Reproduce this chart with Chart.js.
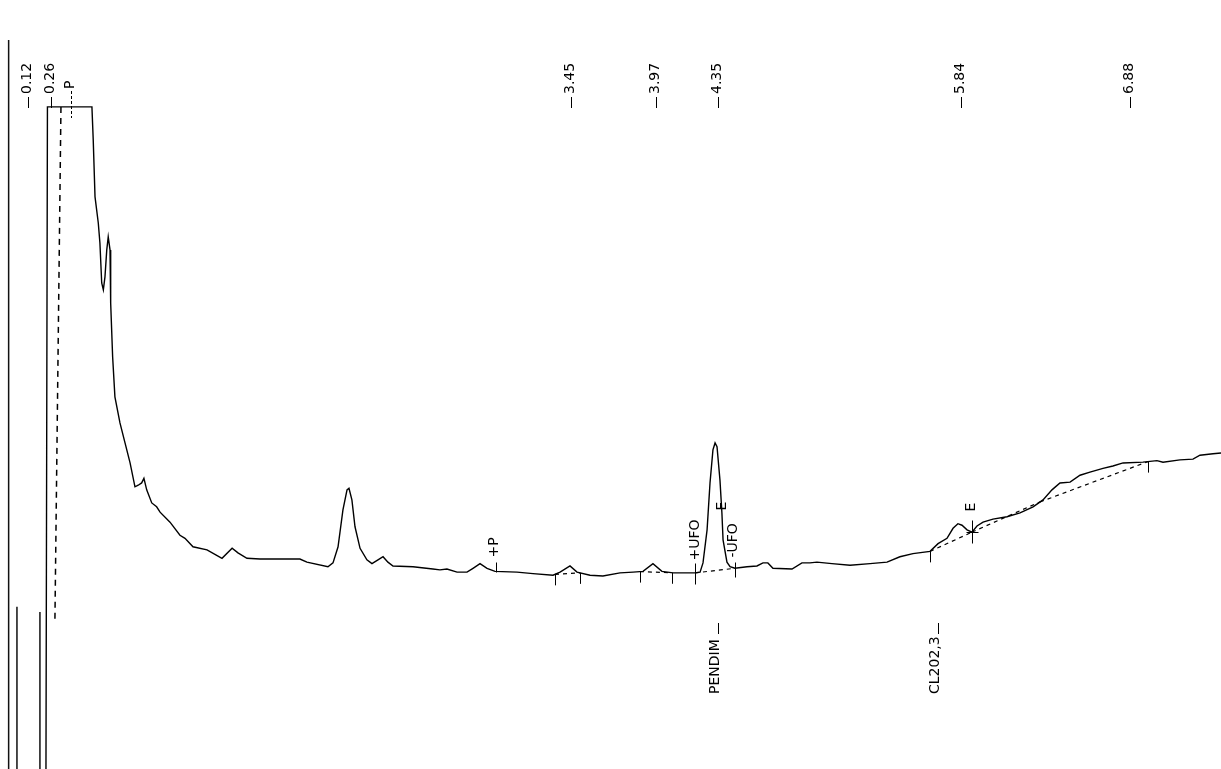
<!DOCTYPE html>
<html>
<head>
<meta charset="utf-8">
<title>Chromatogram</title>
<script src="https://cdn.jsdelivr.net/npm/chart.js@4/dist/chart.umd.min.js"></script>
<style>
  html, body { margin: 0; padding: 0; background: #fff; }
  #wrap { width: 1221px; height: 769px; }
</style>
</head>
<body>
<div id="wrap"><canvas id="chrom" width="1221" height="769"></canvas></div>
<script>
// Detector trace: retention time (min) and signal (relative units)
const traceTime = [
  0.229,0.238,0.511,0.519,0.530,0.550,0.560,0.571,0.581,0.591,
  0.602,0.611,0.622,0.626,0.638,0.652,0.683,0.714,0.745,0.775,
  0.795,0.816,0.830,0.847,0.878,0.908,0.929,0.990,1.051,1.082,
  1.131,1.217,1.309,1.371,1.407,1.462,1.542,1.616,1.726,1.787,
  1.830,1.959,1.990,2.021,2.051,2.076,2.088,2.106,2.125,2.156,
  2.198,2.229,2.266,2.297,2.327,2.358,2.481,2.603,2.646,2.689,
  2.751,2.812,2.849,2.892,2.935,2.984,3.119,3.217,3.340,3.383,
  3.444,3.487,3.567,3.646,3.751,3.831,3.892,3.953,4.008,4.076,
  4.211,4.242,4.260,4.285,4.303,4.321,4.334,4.346,4.364,4.376,
  4.383,4.407,4.426,4.456,4.530,4.591,4.628,4.658,4.689,4.806,
  4.867,4.916,4.959,5.051,5.162,5.285,5.389,5.468,5.548,5.653,
  5.702,5.757,5.794,5.824,5.849,5.880,5.910,5.941,5.978,6.039,
  6.125,6.205,6.285,6.346,6.401,6.450,6.512,6.573,6.634,6.714,
  6.775,6.837,6.959,7.045,7.082,7.186,7.266,7.309,7.389,7.438
];
const traceSignal = [
  0,86.1,86.1,81.8,74.4,71.0,68.4,63.2,62.3,64.0,
  67.5,69.2,67.5,60.6,53.6,48.4,45.0,42.4,39.8,36.7,
  36.9,37.2,37.8,36.3,34.6,34.1,33.4,32.1,30.4,30.0,
  28.9,28.5,27.4,28.7,28.1,27.4,27.3,27.3,27.3,27.3,
  26.9,26.3,26.8,28.9,33.7,36.3,36.5,35.0,31.5,28.7,
  27.2,26.7,27.2,27.6,26.9,26.4,26.3,26.0,25.9,26.0,
  25.6,25.6,26.1,26.7,26.1,25.7,25.6,25.4,25.2,25.6,
  26.4,25.6,25.2,25.1,25.5,25.6,25.7,26.7,25.7,25.5,
  25.5,25.6,26.8,31.1,37.2,41.5,42.4,41.9,37.6,33.3,
  29.8,26.9,26.3,26.1,26.3,26.4,26.8,26.8,26.1,26.0,
  26.8,26.8,26.9,26.7,26.5,26.7,26.9,27.6,28.0,28.3,
  29.3,30.0,31.3,31.9,31.7,31.1,30.8,31.6,32.1,32.5,
  32.8,33.3,34.1,35.0,36.3,37.2,37.3,38.2,38.6,39.1,
  39.4,39.8,39.9,40.1,39.9,40.2,40.3,40.8,41.0,41.1
];

// Retention times printed along the top
const peakTimes = [0.12, 0.26, 3.45, 3.97, 4.35, 5.84, 6.88];

// Identified compounds
const compoundNames = ['PENDIM', 'CL202,3'];
const compoundTimes = [4.35, 5.70];

// Integration events
const splitTimes = [3.352, 3.506, 3.873, 4.070, 5.653, 6.990];
const eventLabels = ['+P', '+UFO', '-UFO', 'E', 'E'];
const eventTimes = [2.990, 4.211, 4.456, 4.376, 5.910];
const pickTime = 0.383;

// Drawn integration baselines (start / end times)
const baselineFrom = [3.352, 3.873, 4.211, 5.653, 5.910, 6.328];
const baselineTo   = [3.506, 4.070, 4.456, 5.910, 6.328, 6.990];

// Solvent-front baseline
const solventTime = [0.321, 0.284];
const solventSignal = [86.1, 19.4];

// Recorder rails at the start of the run
const railTimes = [0.000, 0.051, 0.192];
const railTop = [94.8, 21.1, 20.4];

const X_MIN = -0.053, X_MAX = 7.438;

function traceAt(t) {
  for (let i = 1; i < traceTime.length; i++) {
    if (traceTime[i] >= t) {
      const t0 = traceTime[i - 1], t1 = traceTime[i];
      const f = (t - t0) / (t1 - t0);
      return traceSignal[i - 1] + f * (traceSignal[i] - traceSignal[i - 1]);
    }
  }
  return traceSignal[traceSignal.length - 1];
}

const traceData = traceTime.map((t, i) => ({ x: t, y: traceSignal[i] }));

const baselineData = [];
baselineFrom.forEach((t0, i) => {
  const t1 = baselineTo[i];
  baselineData.push({ x: t0, y: traceAt(t0) }, { x: t1, y: traceAt(t1) }, { x: t1, y: null });
});

const solventData = solventTime.map((t, i) => ({ x: t, y: solventSignal[i] }));

const railData = [];
railTimes.forEach((t, i) => {
  railData.push({ x: t, y: railTop[i] }, { x: t, y: 0 }, { x: t, y: null });
});

function vline(ctx, x, y0, y1) {
  ctx.beginPath();
  ctx.moveTo(x, y0);
  ctx.lineTo(x, y1);
  ctx.stroke();
}
function hline(ctx, x0, x1, y) {
  ctx.beginPath();
  ctx.moveTo(x0, y);
  ctx.lineTo(x1, y);
  ctx.stroke();
}
// Text running upward from (x, yBottom)
function vtext(ctx, text, x, yBottom) {
  ctx.save();
  ctx.translate(x, yBottom);
  ctx.rotate(-Math.PI / 2);
  ctx.textAlign = 'left';
  ctx.textBaseline = 'middle';
  ctx.fillText(text, 0, 0);
  ctx.restore();
}

// Offsets (px) of event marks relative to the trace
const eventStyle = [
  { up: 9,  down: 1,  gap: 14, dx: -2 },
  { up: 10, down: 11, gap: 13, dx: 0 },
  { up: 6,  down: 9,  gap: 11, dx: -2 },
  { up: 0,  down: 0,  gap: 3,  dx: 0 },
  { up: 12, down: 11, gap: 21, dx: -1, cross: 6 }
];

const annotate = {
  id: 'annotate',
  afterDatasetsDraw(chart) {
    const { ctx, scales: { x, y } } = chart;
    const px = t => Math.round(x.getPixelForValue(t)) + 0.5;
    ctx.save();
    ctx.fillStyle = '#000';
    ctx.strokeStyle = '#000';
    ctx.lineWidth = 1;
    ctx.font = '14px "DejaVu Sans"';

    // retention time labels
    peakTimes.forEach(t => {
      const p = px(t);
      vline(ctx, p, 97, 108);
      vtext(ctx, t.toFixed(2), p - 1, 94);
    });

    // compound names
    compoundNames.forEach((name, i) => {
      const p = px(compoundTimes[i]);
      vline(ctx, p, 623, 634);
      vtext(ctx, name, p - 3, 694);
    });

    // baseline split ticks
    splitTimes.forEach(t => {
      const p = px(t);
      const yt = y.getPixelForValue(traceAt(t));
      vline(ctx, p, yt, yt + 11);
    });

    // labelled events
    eventLabels.forEach((lab, i) => {
      const t = eventTimes[i];
      const st = eventStyle[i];
      const p = px(t);
      const yt = Math.round(y.getPixelForValue(traceAt(t))) + 0.5;
      if (st.up || st.down) vline(ctx, p, yt - st.up, yt + st.down);
      if (st.cross) hline(ctx, p - st.cross, p + st.cross, yt);
      vtext(ctx, lab, p + st.dx, yt - st.gap);
    });

    // peak-pick mark at the top of the solvent front
    const pp = px(pickTime);
    ctx.setLineDash([3, 2]);
    vline(ctx, pp, 91, 118);
    ctx.setLineDash([]);
    vtext(ctx, 'P', pp - 1, 89);

    ctx.restore();
  }
};

new Chart(document.getElementById('chrom'), {
  type: 'line',
  data: {
    datasets: [
      { data: traceData, borderColor: '#000', borderWidth: 1.4, pointRadius: 0, tension: 0 },
      { data: baselineData, borderColor: '#000', borderWidth: 1.2, borderDash: [4, 4], pointRadius: 0 },
      { data: solventData, borderColor: '#000', borderWidth: 1.5, borderDash: [6, 5], pointRadius: 0 },
      { data: railData, borderColor: '#111', borderWidth: 1.5, pointRadius: 0 }
    ]
  },
  options: {
    responsive: false,
    animation: false,
    devicePixelRatio: 1,
    spanGaps: false,
    layout: { padding: 0 },
    plugins: { legend: { display: false }, tooltip: { enabled: false } },
    scales: {
      x: { type: 'linear', min: X_MIN, max: X_MAX, display: false },
      y: { type: 'linear', min: 0, max: 100, display: false }
    }
  },
  plugins: [annotate]
});
</script>
</body>
</html>
